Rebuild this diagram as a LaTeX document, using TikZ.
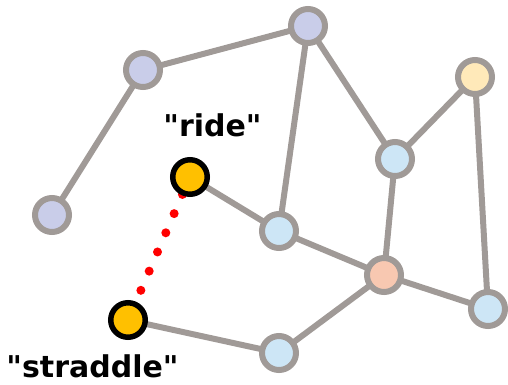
\documentclass[tikz,border=0pt]{standalone}
\usepackage{fontspec}
\newfontfamily\lblfont{DejaVu Sans}
\usetikzlibrary{calc}
\definecolor{edgegray}{HTML}{A09A97}
\definecolor{lav}{HTML}{C9CDE9}
\definecolor{lblue}{HTML}{CDE6F6}
\definecolor{salmon}{HTML}{F8C8B1}
\definecolor{cream}{HTML}{FFE9B9}
\definecolor{gold}{HTML}{FFC000}
\begin{document}
\begin{tikzpicture}[x=1pt,y=-1pt,
  vert/.style={circle,draw=edgegray,line width=6pt,minimum size=34pt,inner sep=0pt},
  hot/.style={circle,draw=black,line width=5.5pt,fill=gold,minimum size=34.5pt,inner sep=0pt},
  edge/.style={draw=edgegray,line width=6pt},
  lbl/.style={font=\lblfont\bfseries\fontsize{30}{32}\selectfont,anchor=base,inner sep=0pt}]
\useasboundingbox (0,0) rectangle (508,384);
\coordinate (A) at (52,215);
\coordinate (B) at (143,70);
\coordinate (C) at (308,26);
\coordinate (D) at (475,77);
\coordinate (E) at (395,159);
\coordinate (F) at (190,177);
\coordinate (G) at (279,231);
\coordinate (H) at (384,275);
\coordinate (I) at (488,309);
\coordinate (J) at (128,320);
\coordinate (K) at (279,353);
\foreach \a/\b in {A/B,B/C,C/G,C/E,E/D,E/H,D/I,F/G,G/H,H/I,H/K,K/J}
  \draw[edge] (\a) -- (\b);
\draw[red,line width=9pt,line cap=round,dash pattern=on 0pt off 20.9pt]
  ($(F)!19pt!(J)$) -- ($(J)!32pt!(F)$);
\node[vert,fill=lav] (nA) at (A) {};
\node[vert,fill=lav] (nB) at (B) {};
\node[vert,fill=lav] (nC) at (C) {};
\node[vert,fill=cream] (nD) at (D) {};
\node[vert,fill=lblue] (nE) at (E) {};
\node[hot] (nF) at (F) {};
\node[vert,fill=lblue] (nG) at (G) {};
\node[vert,fill=salmon] (nH) at (H) {};
\node[vert,fill=lblue] (nI) at (I) {};
\node[hot] (nJ) at (J) {};
\node[vert,fill=lblue] (nK) at (K) {};
\node[lbl] (tride) at (212.5,136.7) {"ride"};
\node[lbl] (tstr) at (92.5,377) {"straddle"};
\end{tikzpicture}
\end{document}
